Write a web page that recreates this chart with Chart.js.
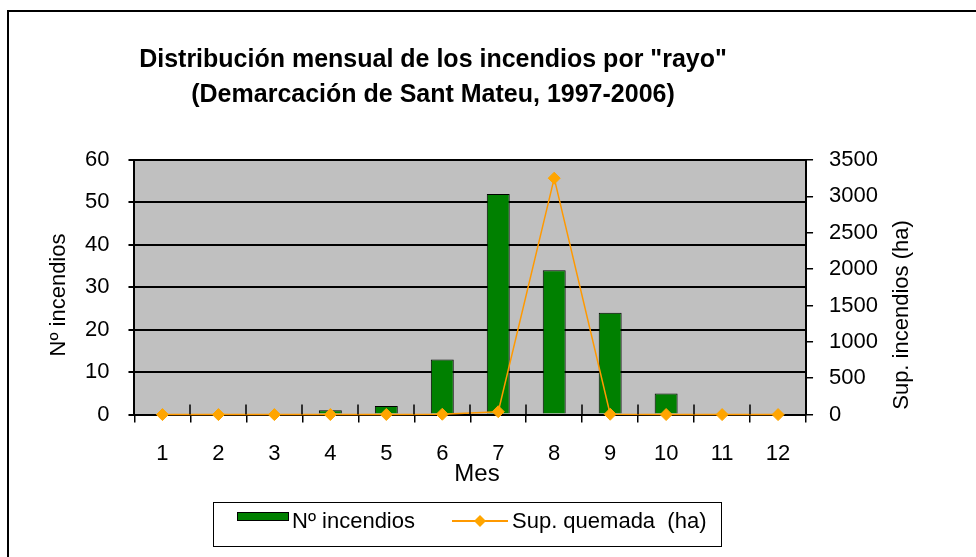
<!DOCTYPE html>
<html>
<head>
<meta charset="utf-8">
<script src="https://cdn.jsdelivr.net/npm/chart.js@4.4.0/dist/chart.umd.min.js"></script>
<style>
    html, body { margin: 0; padding: 0; background: #fff; }
    #contenedor { width: 976px; height: 557px; }
</style>
</head>
<body>
<div id="contenedor"><canvas id="grafico" width="976" height="557"></canvas></div>
<script>
// Datos
const meses = ['1', '2', '3', '4', '5', '6', '7', '8', '9', '10', '11', '12'];
const incendios = [0, 0, 0, 1, 2, 13, 52, 34, 24, 5, 0, 0];
const superficie = [0, 0, 0, 1, 2, 5, 40, 3250, 5, 1, 0, 0];
const ticksIncendios = [0, 10, 20, 30, 40, 50, 60];
const ticksSuperficie = [0, 500, 1000, 1500, 2000, 2500, 3000, 3500];

const titulo = ['Distribución mensual de los incendios por "rayo"', '(Demarcación de Sant Mateu, 1997-2006)'];
const tituloIzq = 'Nº incendios';
const tituloDer = 'Sup. incendios (ha)';
const tituloX = 'Mes';

const fuente = "'Liberation Sans', Arial, sans-serif";
Chart.defaults.font.family = fuente;
Chart.defaults.color = '#000';

// Fondo gris del área de trazado
const fondo = {
    id: 'fondo',
    beforeDraw(chart) {
        const ctx = chart.ctx;
        const a = chart.chartArea;
        ctx.save();
        ctx.fillStyle = '#fff';
        ctx.fillRect(0, 0, chart.width, chart.height);
        ctx.fillStyle = '#c0c0c0';
        ctx.fillRect(a.left, a.top, a.right - a.left, a.bottom - a.top);
        ctx.restore();
    }
};

// Marco, títulos, marcas del eje X y leyenda
const adornos = {
    id: 'adornos',
    afterDraw(chart) {
        const ctx = chart.ctx;
        const a = chart.chartArea;
        ctx.save();

        // marco exterior
        ctx.strokeStyle = '#000';
        ctx.lineWidth = 2;
        ctx.beginPath();
        ctx.moveTo(8, chart.height);
        ctx.lineTo(8, 11);
        ctx.lineTo(chart.width, 11);
        ctx.stroke();

        // título
        ctx.fillStyle = '#000';
        ctx.textAlign = 'center';
        ctx.textBaseline = 'alphabetic';
        ctx.font = 'bold 25px ' + fuente;
        ctx.fillText(titulo[0], 433, 67);
        ctx.fillText(titulo[1], 433, 102);

        // títulos de los ejes
        ctx.font = '22px ' + fuente;
        ctx.textBaseline = 'middle';
        ctx.save();
        ctx.translate(59, 295);
        ctx.rotate(-Math.PI / 2);
        ctx.fillText(tituloIzq, 0, 0);
        ctx.restore();
        ctx.save();
        ctx.translate(902, 315);
        ctx.rotate(-Math.PI / 2);
        ctx.fillText(tituloDer, 0, 0);
        ctx.restore();
        ctx.font = '24px ' + fuente;
        ctx.textBaseline = 'alphabetic';
        ctx.fillText(tituloX, 477, 481);

        // marcas del eje X hacia arriba
        const x = chart.scales.x;
        ctx.strokeStyle = '#000';
        ctx.lineWidth = 1.5;
        ctx.beginPath();
        for (let i = 0; i <= meses.length; i++) {
            const px = Math.round(x.getPixelForValue(i - 0.5));
            ctx.moveTo(px, a.bottom - 10);
            ctx.lineTo(px, a.bottom);
        }
        ctx.stroke();

        // leyenda
        const ds = chart.data.datasets;
        ctx.lineWidth = 1;
        ctx.strokeStyle = '#000';
        ctx.strokeRect(213.5, 502.5, 508, 44);
        ctx.fillStyle = ds[0].backgroundColor;
        ctx.fillRect(237, 512, 52, 9);
        ctx.strokeRect(237.5, 512.5, 51, 8);
        ctx.fillStyle = '#000';
        ctx.font = '22px ' + fuente;
        ctx.textAlign = 'left';
        ctx.textBaseline = 'middle';
        ctx.fillText(ds[0].label, 292, 522);

        ctx.strokeStyle = ds[1].borderColor;
        ctx.lineWidth = 2;
        ctx.beginPath();
        ctx.moveTo(452, 521);
        ctx.lineTo(508, 521);
        ctx.stroke();
        ctx.fillStyle = ds[1].pointBackgroundColor;
        ctx.beginPath();
        ctx.moveTo(480, 515);
        ctx.lineTo(486, 521);
        ctx.lineTo(480, 527);
        ctx.lineTo(474, 521);
        ctx.closePath();
        ctx.fill();
        ctx.fillStyle = '#000';
        ctx.fillText(ds[1].label, 512, 522);

        ctx.restore();
    }
};

const tick = { size: 22 };
const sinSeparador = v => String(v);

new Chart(document.getElementById('grafico'), {
    data: {
        labels: meses,
        datasets: [{
            type: 'bar',
            label: 'Nº incendios',
            data: incendios,
            yAxisID: 'y',
            backgroundColor: '#008000',
            borderColor: '#000',
            borderWidth: 1,
            categoryPercentage: 1,
            barPercentage: 0.41,
            order: 2
        }, {
            type: 'line',
            label: 'Sup. quemada  (ha)',
            data: superficie,
            yAxisID: 'y1',
            borderColor: '#ff9900',
            borderWidth: 1.5,
            pointStyle: 'rectRot',
            pointRadius: 6,
            pointBackgroundColor: '#ffa500',
            pointBorderColor: '#ffa500',
            pointBorderWidth: 1,
            tension: 0,
            clip: false,
            order: 1
        }]
    },
    options: {
        responsive: false,
        animation: false,
        events: [],
        layout: { padding: { left: 66, right: 82, top: 160, bottom: 72 } },
        plugins: {
            legend: { display: false },
            title: { display: false },
            tooltip: { enabled: false }
        },
        scales: {
            x: {
                type: 'category',
                offset: true,
                grid: { offset: true, drawOnChartArea: false, color: '#000', lineWidth: 1.5, tickLength: 8 },
                border: { color: '#000', width: 2 },
                ticks: { font: tick, color: '#000', padding: 18, maxRotation: 0 }
            },
            y: {
                position: 'left',
                min: ticksIncendios[0],
                max: ticksIncendios[ticksIncendios.length - 1],
                ticks: { stepSize: ticksIncendios[1] - ticksIncendios[0], font: tick, color: '#000', padding: 19, callback: sinSeparador },
                grid: { color: '#000', lineWidth: 2, tickLength: 6 },
                border: { color: '#000', width: 2 }
            },
            y1: {
                position: 'right',
                min: ticksSuperficie[0],
                max: ticksSuperficie[ticksSuperficie.length - 1],
                ticks: { stepSize: ticksSuperficie[1] - ticksSuperficie[0], font: tick, color: '#000', padding: 16, callback: sinSeparador },
                grid: { drawOnChartArea: false, color: '#000', lineWidth: 1.5, tickLength: 7 },
                border: { color: '#000', width: 2 }
            }
        }
    },
    plugins: [fondo, adornos]
});
</script>
</body>
</html>
